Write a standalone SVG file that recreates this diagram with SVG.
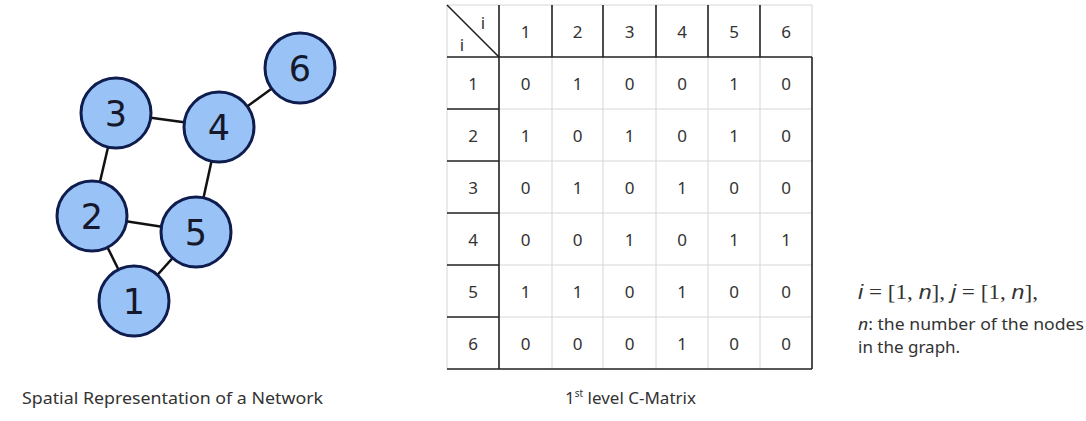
<svg xmlns="http://www.w3.org/2000/svg" width="1086" height="421" viewBox="0 0 1086 421">
<style>
.edge{stroke:#111;stroke-width:2.5;fill:none}
.node circle{fill:#99c2f7;stroke:#0e1c4e;stroke-width:3}
.node text{font-family:"DejaVu Sans",sans-serif;font-size:35px;fill:#15192b;text-anchor:middle}
.lt{stroke:#d6d6d6;stroke-width:1;fill:none}
.dk{stroke:#222;stroke-width:1.6;fill:none}
.num{font-family:"Noto Sans","Open Sans",sans-serif;font-size:17px;fill:#333;text-anchor:middle}
.cap{font-family:"Noto Sans","Open Sans",sans-serif;fill:#333}
</style>
<rect width="1086" height="421" fill="#fff"/>
<g id="connectors">
<line class="edge" x1="116" y1="113" x2="219" y2="127"/>
<line class="edge" x1="219" y1="127" x2="300" y2="68"/>
<line class="edge" x1="116" y1="113" x2="92" y2="216"/>
<line class="edge" x1="219" y1="127" x2="196" y2="232"/>
<line class="edge" x1="92" y1="216" x2="196" y2="232"/>
<line class="edge" x1="92" y1="216" x2="134" y2="301"/>
<line class="edge" x1="134" y1="301" x2="196" y2="232"/>
</g>
<g id="node6" class="node"><circle cx="300" cy="68" r="35"/><text x="300" y="81">6</text></g>
<g id="node3" class="node"><circle cx="116" cy="113" r="35"/><text x="116" y="126">3</text></g>
<g id="node4" class="node"><circle cx="219" cy="127" r="35"/><text x="219" y="140">4</text></g>
<g id="node2" class="node"><circle cx="92" cy="216" r="35"/><text x="92" y="229">2</text></g>
<g id="node5" class="node"><circle cx="196" cy="232" r="35"/><text x="196" y="245">5</text></g>
<g id="node1" class="node"><circle cx="134" cy="301" r="35"/><text x="134" y="314">1</text></g>
<g id="matrix">
<path class="lt" d="M447 5H812V57M447 5V369M552 57V369M603 57V369M656 57V369M708 57V369M760 57V369M499 109H812M499 161H812M499 213H812M499 265H812M499 317H812"/>
<path class="dk" d="M499 5V369M447 57H812M552 5V57M603 5V57M656 5V57M708 5V57M760 5V57M447 109H499M447 161H499M447 213H499M447 265H499M447 317H499M812 57V369M447 369H812"/>
<line class="dk" x1="447" y1="5" x2="499" y2="57" stroke-width="1.2"/>
<text class="num" x="483" y="29" font-size="16">i</text>
<text class="num" x="462" y="51" font-size="16">i</text>
<g class="num">
<text x="525.5" y="38">1</text><text x="577.5" y="38">2</text><text x="629.5" y="38">3</text><text x="682" y="38">4</text><text x="734" y="38">5</text><text x="786" y="38">6</text>
<text x="473" y="90">1</text><text x="473" y="142">2</text><text x="473" y="194">3</text><text x="473" y="246">4</text><text x="473" y="298">5</text><text x="473" y="350">6</text>
<text x="525.5" y="90">0</text><text x="577.5" y="90">1</text><text x="629.5" y="90">0</text><text x="682" y="90">0</text><text x="734" y="90">1</text><text x="786" y="90">0</text>
<text x="525.5" y="142">1</text><text x="577.5" y="142">0</text><text x="629.5" y="142">1</text><text x="682" y="142">0</text><text x="734" y="142">1</text><text x="786" y="142">0</text>
<text x="525.5" y="194">0</text><text x="577.5" y="194">1</text><text x="629.5" y="194">0</text><text x="682" y="194">1</text><text x="734" y="194">0</text><text x="786" y="194">0</text>
<text x="525.5" y="246">0</text><text x="577.5" y="246">0</text><text x="629.5" y="246">1</text><text x="682" y="246">0</text><text x="734" y="246">1</text><text x="786" y="246">1</text>
<text x="525.5" y="298">1</text><text x="577.5" y="298">1</text><text x="629.5" y="298">0</text><text x="682" y="298">1</text><text x="734" y="298">0</text><text x="786" y="298">0</text>
<text x="525.5" y="350">0</text><text x="577.5" y="350">0</text><text x="629.5" y="350">0</text><text x="682" y="350">1</text><text x="734" y="350">0</text><text x="786" y="350">0</text>
</g>
</g>
<text class="cap" x="22" y="404" font-size="17" textLength="301" lengthAdjust="spacingAndGlyphs">Spatial Representation of a Network</text>
<text class="cap" x="565" y="404" font-size="17">1<tspan font-size="10" dy="-7">st</tspan><tspan dy="7"> level C-Matrix</tspan></text>
<text x="858" y="299" font-family="Liberation Serif,serif" font-size="20" fill="#333" textLength="180" lengthAdjust="spacingAndGlyphs"><tspan font-style="italic" font-family="Liberation Sans,sans-serif">i</tspan> = [1, <tspan font-style="italic" font-family="Liberation Sans,sans-serif">n</tspan>], <tspan font-style="italic" font-family="Liberation Sans,sans-serif">j</tspan> = [1, <tspan font-style="italic" font-family="Liberation Sans,sans-serif">n</tspan>],</text>
<text class="cap" x="858" y="330" font-size="17" textLength="226" lengthAdjust="spacingAndGlyphs"><tspan font-style="italic">n</tspan>: the number of the nodes</text>
<text class="cap" x="858" y="353" font-size="17">in the graph.</text>
</svg>
